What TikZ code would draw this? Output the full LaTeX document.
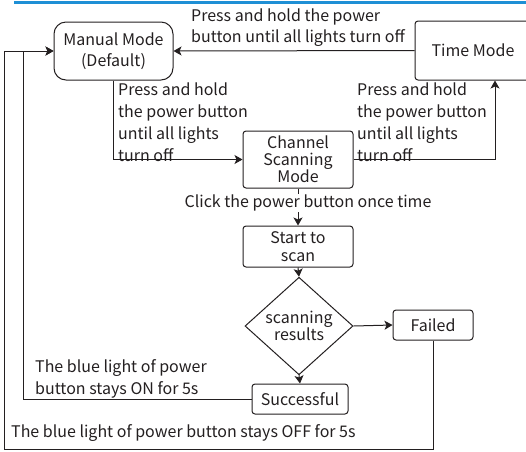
\documentclass[tikz,border=0pt]{standalone}
\usepackage{fontspec}
\setmainfont{Noto Sans CJK SC}
\usetikzlibrary{shapes.geometric,arrows.meta,calc}
\definecolor{ink}{HTML}{231F20}
\definecolor{topblue}{HTML}{1E8FD5}
\tikzset{
  arr/.style={draw=ink,line width=1pt,-{Stealth[length=8pt,width=9pt,inset=2pt]}},
  ln/.style={draw=ink,line width=1pt},
  box/.style={draw=ink,line width=1pt,rounded corners=3pt,inner sep=0pt,align=center,text=ink,font=\fontsize{16}{17}\selectfont},
  lbl/.style={inner sep=0pt,align=left,text=ink,font=\fontsize{16}{22}\selectfont},
}
\begin{document}
\begin{tikzpicture}[x=1pt,y=-1pt]
\useasboundingbox (0,0) rectangle (526,451);
\draw[topblue,line width=3pt] (14,2.5) -- (526,2.5);
\node[box,rounded corners=12pt,minimum width=119pt,minimum height=58pt,font=\fontsize{16}{21}\selectfont] (manual) at (113.5,51) {Manual Mode\\(Default)};
\node[box,minimum width=116pt,minimum height=59pt] (time) at (473,50.5) {Time Mode};
\node[box,minimum width=110pt,minimum height=57pt] (channel) at (298,159.5) {Channel\\Scanning\\Mode};
\node[box,minimum width=110pt,minimum height=41pt,font=\fontsize{16}{18}\selectfont] (start) at (298,246.5) {Start to\\scan};
\node[draw=ink,line width=1pt,diamond,inner sep=0pt,minimum width=108pt,minimum height=74pt,align=center,text=ink,font=\fontsize{16}{15}\selectfont] (diam) at (299,326) {scanning\\results};
\node[box,minimum width=80pt,minimum height=30pt] (failed) at (433,325) {Failed};
\node[box,minimum width=96pt,minimum height=30pt] (succ) at (300,399) {Successful};
\coordinate (bl) at (4,449);
% connectors
\draw[arr] (time.west) -- (manual.east);
\draw[arr] (manual.south) |- (channel.west);
\draw[arr] (channel.east) -| ([xshift=22pt]time.south);
\draw[arr] (channel.south) -- (start.north);
\node[lbl,fill=white,inner sep=1pt,anchor=center] (click) at (308,203) {Click the power button once time};
\draw[arr] (start.south) -- (diam.north);
\draw[arr] (diam.east) -- (failed.west);
\draw[arr] (diam.south) -- (succ.north);
\draw[arr] (succ.west) -| ([xshift=-30pt]manual.west) -- (manual.west);
\draw[arr] (failed.south) |- (bl) |- (manual.west);
% labels
\node[lbl,anchor=north west,font=\fontsize{16}{21}\selectfont] (ltop) at (191,9) {Press and hold the power\\button until all lights turn off};
\node[lbl,anchor=north west] (lleft) at (118,83) {Press and hold\\the power button\\until all lights\\turn off};
\node[lbl,anchor=north west] (lright) at (357,83) {Press and hold\\the power button\\until all lights\\turn off};
\node[lbl,anchor=north west] (lon) at (35,359) {The blue light of power\\button stays ON for 5s};
\node[lbl,anchor=north west] (loff) at (11,424) {The blue light of power button stays OFF for 5s};
\end{tikzpicture}
\end{document}
